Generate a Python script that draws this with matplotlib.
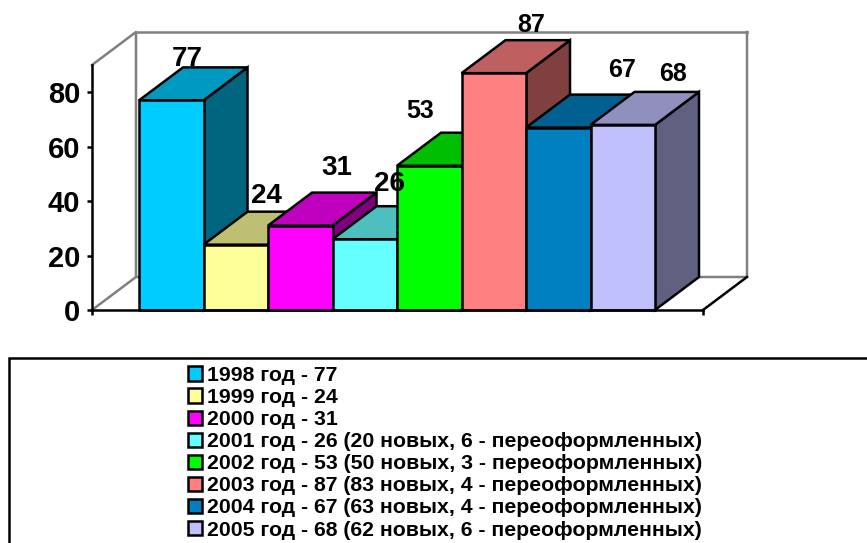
import matplotlib
matplotlib.use('Agg')
import matplotlib.pyplot as plt
from matplotlib.patches import Patch, Polygon, Rectangle
from matplotlib.colors import to_rgb

plt.rcParams['font.family'] = ['Liberation Sans', 'DejaVu Sans']
plt.rcParams['font.weight'] = 'bold'

# data
values = [77, 24, 31, 26, 53, 87, 67, 68]
colors = ['#00CCFF', '#FFFF99', '#FF00FF', '#66FFFF',
          '#00FF00', '#FF8080', '#0080C0', '#C0C0FF']
labels = ['1998 год - 77',
          '1999 год - 24',
          '2000 год - 31',
          '2001 год - 26 (20 новых, 6 - переоформленных)',
          '2002 год - 53 (50 новых, 3 - переоформленных)',
          '2003 год - 87 (83 новых, 4 - переоформленных)',
          '2004 год - 67 (63 новых, 4 - переоформленных)',
          '2005 год - 68 (62 новых, 6 - переоформленных)']
yticks = [0, 20, 40, 60, 80]

# value label offsets in pixels from the front top left corner of each bar
label_dx = [48, 62.5, 69, 56.5, 23, 69.5, 96, 82.5]
label_dy = [41, 49, 58, 55, 55, 48.5, 58, 51]
label_size = [20, 20, 20, 20, 18, 18, 18, 18]

W, H = 867, 543
fig = plt.figure(figsize=(W / 100, H / 100), dpi=100)
ax = fig.add_axes([92 / W, 1 - 310 / H, (703 - 92) / W, (310 - 65) / H])
ax.set_xlim(-1.229, 8.244)
ax.set_ylim(0, 90)
ax.patch.set_visible(False)

px_x = (8.244 + 1.229) / (703 - 92)
px_y = 90 / (310 - 65)
dx = 44 * px_x
dy = 33 * px_y
x0, x1 = ax.get_xlim()
y1 = ax.get_ylim()[1]
LW = 1.8

# walls and floor
ax.plot([x0, x0 + dx, x0 + dx, x1 + dx, x1 + dx], [y1, y1 + dy, dy, dy, y1 + dy],
        color='#808080', lw=LW, clip_on=False, zorder=1)
ax.plot([x0 + dx, x1 + dx], [y1 + dy, y1 + dy], color='#808080', lw=LW, clip_on=False, zorder=1)
ax.plot([x0, x0 + dx], [0, dy], color='#808080', lw=LW, clip_on=False, zorder=1)
ax.plot([x1, x1 + dx], [0, dy], color='black', lw=LW, clip_on=False, zorder=1)

# bars, left to right so that the next bar covers the previous side
for i, (v, c) in enumerate(zip(values, colors)):
    r, g, b = to_rgb(c)
    l, rr = i - 0.5, i + 0.5
    side = Polygon([(rr, 0), (rr + dx, dy), (rr + dx, v + dy), (rr, v)],
                   fc=(r * .5, g * .5, b * .5), ec='black', lw=LW, clip_on=False, zorder=2 + i)
    top = Polygon([(l, v), (l + dx, v + dy), (rr + dx, v + dy), (rr, v)],
                  fc=(r * .75, g * .75, b * .75), ec='black', lw=LW, clip_on=False, zorder=2 + i)
    ax.add_patch(side)
    ax.add_patch(top)
    ax.bar(i, v, width=1, color=c, edgecolor='black', linewidth=LW, clip_on=False, zorder=2 + i)

for i, v in enumerate(values):
    ax.annotate(str(v), xy=(i - 0.5, v), xytext=(label_dx[i], label_dy[i]),
                textcoords='offset pixels', ha='center', va='center',
                fontsize=label_size[i], fontweight='bold', color='black',
                annotation_clip=False, zorder=20)

for s in ['top', 'right']:
    ax.spines[s].set_visible(False)
for s in ['left', 'bottom']:
    ax.spines[s].set_linewidth(LW)
    ax.spines[s].set_zorder(15)
ax.set_yticks(yticks)
ax.set_yticklabels([str(t) for t in yticks], fontsize=21, fontweight='bold')
ax.set_xticks([x0, x1])
ax.set_xticklabels([])
ax.tick_params(axis='both', length=3.5, width=LW, pad=5)

# legend frame runs off the right and bottom of the picture
fig.add_artist(Rectangle((9 / W, -0.02), 1.0, 1 - 358 / H + 0.02, transform=fig.transFigure,
                         fc='white', ec='black', lw=LW))
handles = [Patch(fc=c, ec='black', lw=LW) for c in colors]
fig.legend(handles, labels, loc='upper left', bbox_to_anchor=(188 / W, 1 - 366 / H),
           frameon=False, fontsize=15.3, handlelength=0.66, handleheight=0.66,
           handletextpad=0.24, labelspacing=0.145, borderpad=0, borderaxespad=0)

fig.savefig('out.png', dpi=100)
